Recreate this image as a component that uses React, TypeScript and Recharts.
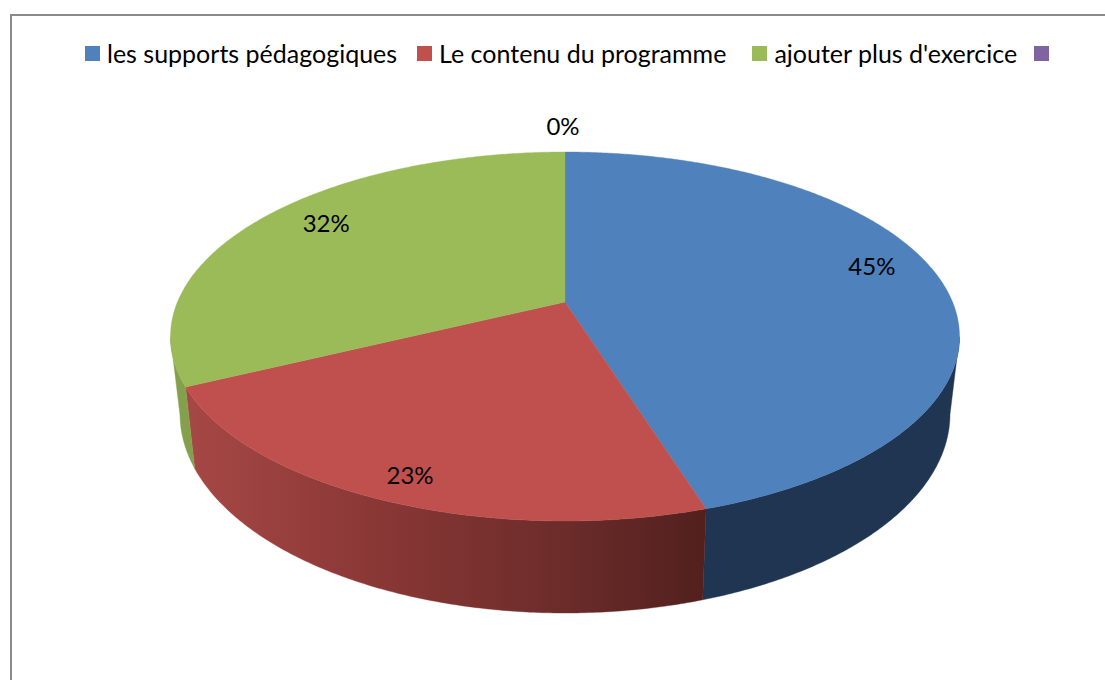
import React from "react";
import { PieChart, Pie, Legend } from "recharts";

const categories = ["les supports pédagogiques", "Le contenu du programme", "ajouter plus d'exercice", " "];
const shares = [45, 23, 32, 0];
const topColors = ["#4F81BD", "#C0504D", "#9BBB59", "#8064A2"];
const wallColors = ["#1F3552", "url(#redWall)", "#85A04C", "#4D3C62"];
const labelReach = [0.824, 0.87, 0.81, 1.173];
const labelNudgeX = [1, 2, -1, -2];
const labelNudgeY = [-13, 0, -8, -1];
const legendGaps = [0, 20, 26, 17];

const tableData = categories.map((name, i) => ({ name, value: shares[i], fill: topColors[i] }));

const FONT = "Lato, sans-serif";
const CX = 565;
const CY = 272;
const RY = 184.5;
const RX = 394.5;
const RAY_ASPECT = 2.1;
const RIM_OFFSET = 34.5;
const BOTTOM_RX = 385;
const BOTTOM_RY = 199;
const BOTTOM_OFFSET = 112;

// Ray from the apex towards clockwise angle theta, cut by the rim ellipse.
function rimPoint(cx: number, cy: number, theta: number) {
  const rad = (theta * Math.PI) / 180;
  const dx = RY * RAY_ASPECT * Math.sin(rad);
  const dy = -RY * Math.cos(rad);
  const a = (dx * dx) / (RX * RX) + (dy * dy) / (RY * RY);
  const b = (-2 * RIM_OFFSET * dy) / (RY * RY);
  const c = (RIM_OFFSET * RIM_OFFSET) / (RY * RY) - 1;
  const t = (-b + Math.sqrt(b * b - 4 * a * c)) / (2 * a);
  const x = cx + t * dx;
  const y = cy + t * dy;
  const cosP = (x - cx) / RX;
  const sinP = (y - cy - RIM_OFFSET) / RY;
  return { x, y, cosP, sinP };
}

function SliceShape(props: any) {
  const { cx, cy, startAngle, endAngle, index } = props;
  const t0 = 90 - startAngle;
  const t1 = 90 - endAngle;
  if (Math.abs(t1 - t0) < 0.01) return null;
  const samples: ReturnType<typeof rimPoint>[] = [];
  const n = Math.ceil(Math.abs(t1 - t0) / 0.5);
  for (let i = 0; i <= n; i++) samples.push(rimPoint(cx, cy, t0 + ((t1 - t0) * i) / n));
  const top = `M${cx},${cy}L` + samples.map((p) => `${p.x.toFixed(2)},${p.y.toFixed(2)}`).join("L") + "Z";
  const front = samples.filter((p) => p.sinP >= 0);
  let wall = "";
  if (front.length > 1) {
    const upper = front.map((p) => `${p.x.toFixed(2)},${p.y.toFixed(2)}`);
    const lower = [...front]
      .reverse()
      .map((p) => `${(cx + BOTTOM_RX * p.cosP).toFixed(2)},${(cy + BOTTOM_OFFSET + BOTTOM_RY * p.sinP).toFixed(2)}`);
    wall = "M" + upper.concat(lower).join("L") + "Z";
  }
  const wallFill = wallColors[index];
  return (
    <g>
      {index === 1 && (
        <defs>
          <linearGradient id="redWall" gradientUnits="userSpaceOnUse" x1={187} y1={0} x2={705} y2={0}>
            <stop offset="0" stopColor="#A64845" />
            <stop offset="0.33" stopColor="#8C3937" />
            <stop offset="0.72" stopColor="#6C2C2A" />
            <stop offset="1" stopColor="#52201E" />
          </linearGradient>
        </defs>
      )}
      {wall && <path d={wall} fill={wallFill} stroke={wallFill} strokeWidth={0.4} />}
      <path d={top} fill={topColors[index]} stroke={topColors[index]} strokeWidth={0.4} />
    </g>
  );
}

function SliceLabel(props: any) {
  const { cx, cy, midAngle, percent, index } = props;
  const p = rimPoint(cx, cy, 90 - midAngle);
  const k = labelReach[index];
  return (
    <text
      x={cx + (p.x - cx) * k + labelNudgeX[index]}
      y={cy + (p.y - cy) * k + labelNudgeY[index]}
      textAnchor="middle"
      dominantBaseline="central"
      fontFamily={FONT}
      fontSize={24}
      fill="#000"
    >
      {`${Math.round(percent * 100)}%`}
    </text>
  );
}

function LegendRow(props: any) {
  const { payload } = props;
  return (
    <div style={{ display: "flex", alignItems: "center", fontFamily: FONT, fontSize: 25, color: "#000", whiteSpace: "nowrap" }}>
      {(payload || []).map((item: any, i: number) => (
        <div key={item.value} style={{ display: "flex", alignItems: "center", gap: 7, marginLeft: legendGaps[i] }}>
          <span style={{ width: 15, height: 15, background: item.color, display: "inline-block" }} />
          <span>{item.value}</span>
        </div>
      ))}
    </div>
  );
}

export default function App() {
  return (
    <div style={{ position: "fixed", left: 0, top: 0, width: 1105, height: 680, background: "#fff", overflow: "hidden" }}>
      <div
        style={{
          position: "absolute",
          left: 10,
          top: 14,
          width: 1110,
          height: 700,
          borderLeft: "2px solid #8A8A8A",
          borderTop: "2px solid #8A8A8A",
        }}
      />
      <PieChart
        width={1105}
        height={680}
        margin={{ top: 0, right: 0, bottom: 0, left: 0 }}
        style={{ position: "absolute", left: 0, top: 0 }}
      >
        <Legend
          content={<LegendRow />}
          layout="horizontal"
          verticalAlign="top"
          itemSorter={null}
          wrapperStyle={{ left: 85, top: 38, width: 1000 }}
        />
        <Pie
          data={tableData}
          dataKey="value"
          nameKey="name"
          cx={CX}
          cy={CY}
          outerRadius={RY}
          startAngle={90}
          endAngle={-270}
          stroke="none"
          isAnimationActive={false}
          shape={<SliceShape />}
          label={<SliceLabel />}
          labelLine={false}
        />
      </PieChart>
    </div>
  );
}
